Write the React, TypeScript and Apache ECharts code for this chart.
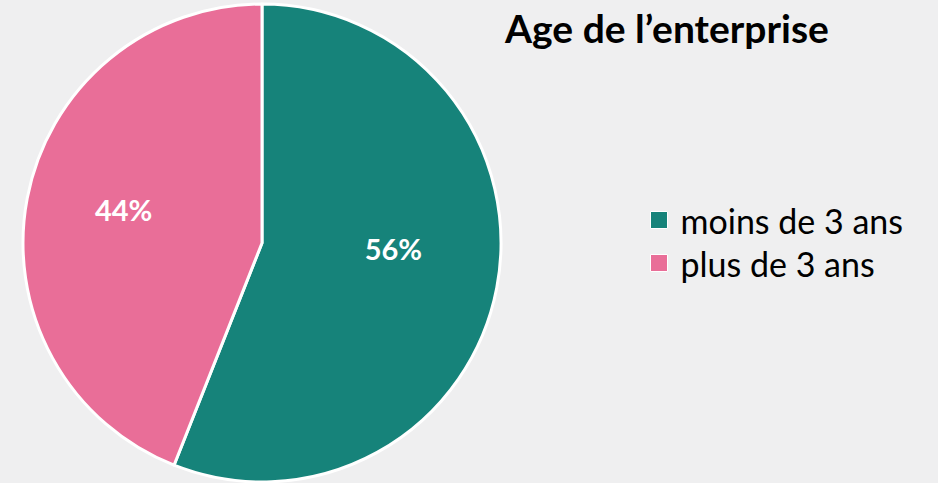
import React, { useEffect, useRef } from "react";
import * as echarts from "echarts";

const categories = ["moins de 3 ans", "plus de 3 ans"];
const values = [56, 44];
const colors = ["#16837a", "#e96e98"];
const title = "Age de l\u2019enterprise";

export default function App() {
  const ref = useRef<HTMLDivElement>(null);
  useEffect(() => {
    if (!ref.current) return;
    const chart = echarts.init(ref.current, undefined, { renderer: "svg" });
    const offsets = [
      [11, -17],
      [-18, -11],
    ];
    chart.setOption({
      animation: false,
      backgroundColor: "#efeff0",
      title: {
        text: title,
        left: 500,
        top: 3,
        textStyle: {
          fontFamily: "Lato",
          fontWeight: "bold",
          fontSize: 39,
          color: "#000",
        },
      },
      legend: {
        orient: "vertical",
        left: 645,
        top: 198,
        itemWidth: 17,
        itemHeight: 17,
        itemGap: 9,
        icon: "rect",
        itemStyle: { borderColor: "#ffffff", borderWidth: 1 },
        textStyle: {
          fontFamily: "Lato",
          fontSize: 34,
          lineHeight: 32,
          color: "#000",
          padding: [0, 0, 0, 8],
        },
        data: categories,
      },
      series: [
        {
          type: "pie",
          center: [262, 243],
          radius: [0, 239],
          startAngle: 90,
          clockwise: true,
          itemStyle: { borderColor: "#ffffff", borderWidth: 3 },
          label: {
            show: true,
            position: "inside",
            formatter: "{c}%",
            color: "#ffffff",
            fontFamily: "Lato",
            fontWeight: "bold",
            fontSize: 29,
          },
          labelLine: { show: false },
          emphasis: { disabled: true },
          data: categories.map((name, i) => ({
            name,
            value: values[i],
            itemStyle: { color: colors[i] },
            label: { offset: offsets[i] },
          })),
        },
      ],
    });
    return () => chart.dispose();
  }, []);
  return (
    <div
      ref={ref}
      style={{ position: "fixed", left: 0, top: 0, width: 938, height: 483 }}
    />
  );
}
